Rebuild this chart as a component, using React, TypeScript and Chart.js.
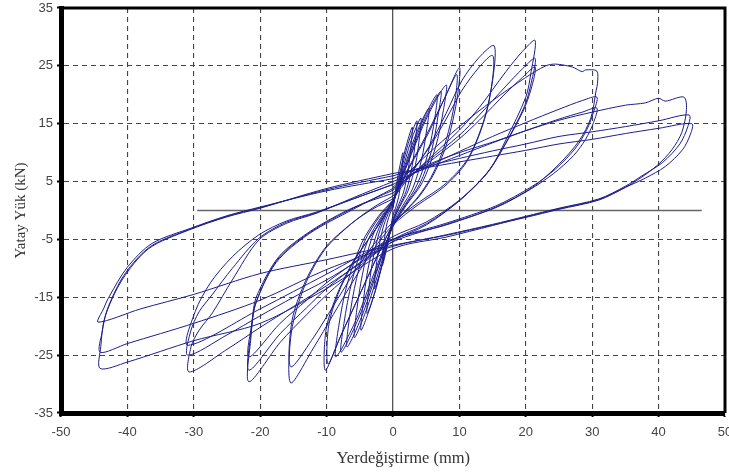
import { useEffect, useRef } from "react";
import { Chart, registerables } from "chart.js";

Chart.register(...registerables);

type P = [number, number];

// Axis ticks
const xTicks = [-50, -40, -30, -20, -10, 0, 10, 20, 30, 40, 50];
const yTicks = [-35, -25, -15, -5, 5, 15, 25, 35];
// Horizontal zero reference line (x extent)
const zeroLineX = [-29.5, 46.5];

// Small cycles (displacement mm, load kN)
const s1: P[] = [[0,0.5],[0.45,4],[1.0,7.5],[1.5,10],[1.42,8],[1.2,5],[0.82,2.2],[0.38,0.4],[0,-0.8],[-0.48,-3.8],[-1.05,-7.1],[-1.6,-9.5],[-1.52,-7.6],[-1.28,-4.8],[-0.88,-2.1],[-0.4,-0.4],[0,0.5]];
const s2: P[] = [[0,0.5],[0.9,5.8],[1.9,10.8],[2.9,14.4],[2.75,11.5],[2.3,7.2],[1.6,3.2],[0.7,0.6],[0,-1.5],[-0.8,-5.4],[-1.8,-10.1],[-2.8,-13.5],[-2.65,-10.8],[-2.2,-6.8],[-1.5,-3],[-0.7,-0.5],[0,0.8]];
const s3: P[] = [[0,0.8],[1.1,6.2],[2.3,11.6],[3.6,15.5],[3.4,12.4],[2.9,7.8],[2,3.4],[0.9,0.6],[0,-1.8],[-1.2,-7.1],[-2.5,-13.3],[-3.9,-17.8],[-3.7,-14.2],[-3.1,-8.9],[-2.1,-3.9],[-1,-0.7],[0,1]];
const s4: P[] = [[0,1],[1.3,6.4],[2.7,12],[4.2,16],[4,12.8],[3.4,8],[2.3,3.5],[1,0.6],[0,-2],[-1.4,-8.3],[-3.1,-15.5],[-4.8,-20.7],[-4.55,-16.5],[-3.8,-10.3],[-2.6,-4.5],[-1.2,-0.8],[0,1.2]];
const s5: P[] = [[0,1.2],[1.6,7.1],[3.5,13.3],[5.4,17.7],[5.1,14.2],[4.3,8.8],[3,3.9],[1.4,0.7],[0,-2.2],[-1.7,-8.8],[-3.8,-16.5],[-5.8,-22],[-5.5,-17.6],[-4.6,-11],[-3.2,-4.8],[-1.5,-0.9],[0,1.4]];
const s6: P[] = [[0,1.4],[2,8],[4.3,15],[6.6,20],[6.3,16],[5.3,10],[3.6,4.4],[1.7,0.8],[0,-2.5],[-2.1,-9.4],[-4.5,-17.7],[-6.9,-23.6],[-6.6,-18.9],[-5.5,-11.8],[-3.8,-5.2],[-1.7,-1],[0,1.6]];
const s7: P[] = [[0,1.6],[2.4,8.7],[5.2,16.3],[8,21.7],[7.6,17.4],[6.4,10.9],[4.4,4.8],[2,0.9],[0,-2.8],[-2.6,-10.1],[-5.6,-19],[-8.6,-25.3],[-8.2,-20.2],[-6.9,-12.7],[-4.7,-5.6],[-2.2,-1],[0,1.8]];
const s8: P[] = [[0,1.5],[2.2,8.2],[4.7,15.5],[7.2,20.6],[6.8,16.5],[5.8,10.3],[4,4.5],[1.8,0.8],[0,-2.6],[-2.3,-9.8],[-5.1,-18.4],[-7.8,-24.5],[-7.4,-19.6],[-6.2,-12.3],[-4.3,-5.4],[-2,-1],[0,1.7]];

// ±10 mm cycles
const c10a: P[] = [[0,1.5],[2.5,7.5],[5.4,13.5],[8,20],[10,24.7],[9.8,20.5],[9,15.5],[7.8,10.5],[6,6],[4,2.5],[2,0],[0,-2.5],[-2,-7],[-4,-12],[-6,-17],[-8,-22],[-10.2,-27.6],[-10.1,-20.7],[-8.6,-15],[-6.2,-9.2],[-4,-5.5],[-2.1,-2.4],[0,1.5]];
const c10b: P[] = [[0,1.8],[2.4,7.5],[5,13],[7.6,19],[9.6,23.5],[9.4,19.5],[8.6,14.8],[7.4,10],[5.7,5.7],[3.8,2.4],[1.9,0],[0,-2.5],[-1.9,-6.8],[-3.9,-11.7],[-5.8,-16.5],[-7.8,-21.5],[-9.8,-26.5],[-9.7,-20],[-8.3,-14.5],[-6,-9],[-3.9,-5.3],[-2,-2.2],[0,1.8]];

// ±15 mm cycles
const c15a: P[] = [[0,2],[2.5,6],[5.4,11],[8,16.8],[10.4,22.5],[13,26.5],[15.2,28.5],[15.2,24.2],[14,16.8],[11.4,9.2],[8,4.7],[4,1.5],[0,-2],[-3,-6],[-6,-11],[-9,-16.5],[-12,-22],[-15.4,-27],[-15.2,-19],[-13.1,-12],[-10.1,-6.3],[-6.2,-2.2],[-3,0.3],[0,2]];
const c15b: P[] = [[0,2.5],[2.5,6.3],[5.4,10.8],[8,15.8],[10.4,20.8],[13,24.8],[15,26.8],[15,22.8],[13.8,15.8],[11.2,8.6],[7.8,4.2],[3.8,1],[0,-2.5],[-3,-6.8],[-6,-12.2],[-9,-18],[-12,-23.8],[-15.4,-29.8],[-15.3,-21],[-13.3,-13],[-10.3,-6.8],[-6.4,-2.4],[-3,0.5],[0,2.5]];

// ±21 mm cycles
const c21a: P[] = [[0,3],[5,8.5],[10,13.9],[13,17.8],[17,24],[19.5,27.5],[21.4,29.4],[20.8,24],[20,19.6],[17,12.2],[14.5,7],[10,1.8],[5,-2],[0,-4.5],[-5,-8.3],[-10,-12.5],[-13,-15.5],[-17,-19.5],[-21.7,-25.3],[-21.2,-19],[-20.6,-15],[-17.2,-8],[-12.2,-3.4],[-6,0.5],[0,3]];
const c21b: P[] = [[0,3.5],[5,8.3],[10,13],[13,16.5],[17,21.5],[19.5,24.5],[21.4,26.3],[20.8,22],[19.8,18],[16.8,11.3],[14.2,6.5],[9.8,1.5],[5,-2.3],[0,-5],[-5,-9],[-10,-13.5],[-13,-16.8],[-17,-21.3],[-21.7,-27.6],[-21.3,-20.5],[-20.6,-15.8],[-17.4,-8.5],[-12.4,-3.7],[-6,0.4],[0,3.5]];
const c21c: P[] = [[0,3.8],[5,8],[10,12.4],[13,15.6],[17,20.3],[19.5,23],[21.4,24.8],[20.8,21],[19.6,17.2],[16.6,10.8],[14,6.2],[9.6,1.3],[5,-2.5],[0,-5.3],[-5,-9.6],[-10,-14.6],[-13,-18],[-17,-22.8],[-21.7,-29.6],[-21.4,-22],[-20.8,-16.5],[-17.6,-9],[-12.6,-4],[-6,0.2],[0,3.8]];

// ±30 mm cycles
const c30a: P[] = [[0,4],[5,9.5],[10,14.5],[15,19],[20,23],[23,25],[24.5,25.3],[27,24.8],[28.5,24],[29,24.3],[30.7,24.1],[30.8,22],[30.6,20.8],[29.8,16],[28,12],[25,8],[21,4],[15.5,0.6],[8,-2.5],[0,-5],[-10,-11],[-20,-17],[-30.9,-23.3],[-29.8,-17.5],[-27.5,-12.5],[-24.2,-8],[-20.2,-4.2],[-16,-1.8],[-11.6,-0.3],[-6,2],[0,4.5]];
const c30b: P[] = [[0,4.5],[5,7.5],[10,10.2],[15,12.8],[20,15.2],[25,17.5],[28.5,19],[30.7,19.6],[30.2,17],[29.2,14],[27.5,10.8],[24.5,7.2],[21,4.2],[15.5,0.8],[8,-2.2],[0,-5],[-5,-8.5],[-10,-12],[-15,-15],[-20,-18.2],[-25,-21.5],[-30.9,-25],[-30.5,-21],[-29.2,-17.5],[-27.2,-14.5],[-24.2,-10],[-20.2,-4.8],[-16,-2],[-11.6,-0.4],[-6,2],[0,4.5]];
const c30c: P[] = [[0,5],[5,7.3],[10,9.5],[15,11.7],[20,13.8],[25,15.8],[28.5,17],[30.7,17.7],[30.2,15.2],[29,12.3],[27.2,9.5],[24.2,6.4],[20.6,3.6],[15.5,0.5],[8,-2.4],[0,-5.4],[-5,-9.2],[-10,-13],[-15,-16.6],[-20,-20.2],[-25,-24],[-30.7,-27.9],[-30.4,-23.5],[-29.2,-20.7],[-27.2,-17.7],[-24.2,-12],[-20.2,-5.1],[-16,-2.2],[-11.6,-0.5],[-6,2.2],[0,5]];

// ±45 mm cycles
const c45a: P[] = [[0,5.5],[5.4,8],[10,10],[15.5,12],[20,13.8],[25,15.6],[30,17],[35,18.2],[38,18.6],[40,19.4],[41,18.9],[43.8,19.6],[44.2,17.5],[43.5,13.5],[42,10.5],[40,8],[37.5,5.8],[35,4],[31,1.8],[25,0.2],[20,-1.2],[15,-2.5],[8,-4.3],[0,-6],[-10,-8.5],[-20,-10.9],[-30,-14.5],[-38,-17],[-44.4,-19.3],[-43.6,-17],[-42.8,-15],[-40,-9.8],[-36.3,-5.7],[-30.3,-3],[-25,-0.9],[-20,0.6],[-10,3.4],[0,5.5]];
const c45b: P[] = [[0,6],[5,7.6],[10,9],[15,10.3],[20,11.5],[25,12.8],[30,13.6],[35,14.5],[40,15.5],[44.6,16.5],[44.4,14.5],[43.2,11.5],[40.6,8.3],[37.5,6],[35,4.2],[31,2],[25,0.4],[20,-1],[15,-2.4],[8,-4.2],[0,-6.2],[-10,-10.2],[-20,-15.5],[-30,-19.5],[-40,-23],[-44.1,-24.5],[-43.8,-21],[-43,-17],[-40.4,-11],[-36.5,-6.2],[-30.5,-3.2],[-25,-1],[-20,0.5],[-10,3.6],[0,6]];
const c45c: P[] = [[0,6.4],[5,7.4],[10,8.4],[15,9.4],[20,10.4],[25,11.5],[30,12.3],[35,13.3],[40,14.2],[45,15],[44.8,13.2],[43.6,10.5],[41,7.6],[38,5.6],[35,4],[31,1.9],[25,0.3],[20,-1.1],[15,-2.6],[8,-4.6],[0,-6.6],[-10,-13.5],[-20,-19.5],[-30,-22.5],[-40,-26.2],[-44.1,-27.3],[-44,-23.5],[-43.4,-18.5],[-40.8,-12],[-36.8,-6.6],[-30.8,-3.4],[-25,-1.1],[-20,0.4],[-10,3.8],[0,6.4]];

const cycles: P[][] = [s1, s2, s3, s4, s5, s6, s7, s8, c10a, c10b, c15a, c15b, c21a, c21b, c21c, c30a, c30b, c30c, c45a, c45b, c45c];

const LINE = "#1e1e8c";

const framePlugin = {
  id: "frame",
  afterDraw(chart: any) {
    const { ctx, chartArea } = chart;
    ctx.save();
    ctx.strokeStyle = "#000";
    ctx.lineWidth = 3;
    ctx.beginPath();
    ctx.moveTo(chartArea.left, chartArea.top);
    ctx.lineTo(chartArea.right, chartArea.top);
    ctx.lineTo(chartArea.right, chartArea.bottom);
    ctx.stroke();
    ctx.restore();
  },
};

export default function App() {
  const ref = useRef<HTMLCanvasElement | null>(null);

  useEffect(() => {
    if (!ref.current) return;
    const datasets: any[] = cycles.map((c) => ({
      data: c.map(([x, y]) => ({ x, y })),
      showLine: true,
      borderColor: LINE,
      borderWidth: 1,
      pointRadius: 0,
      tension: 0.3,
      fill: false,
    }));
    datasets.push({
      data: zeroLineX.map((x) => ({ x, y: 0 })),
      showLine: true,
      borderColor: "#666",
      borderWidth: 1.3,
      pointRadius: 0,
      tension: 0,
    });

    const tickFont = { family: "'Liberation Sans', Arial, sans-serif", size: 13 };
    const titleFont = { family: "'Liberation Serif', 'Times New Roman', serif", size: 16.5 };

    const chart = new Chart(ref.current, {
      type: "scatter",
      data: { datasets },
      plugins: [framePlugin],
      options: {
        animation: false,
        responsive: true,
        maintainAspectRatio: false,
        layout: { padding: { left: 0, right: 4, top: 8, bottom: 0 } },
        plugins: { legend: { display: false }, tooltip: { enabled: false } },
        scales: {
          x: {
            type: "linear",
            min: xTicks[0],
            max: xTicks[xTicks.length - 1],
            afterBuildTicks: (s: any) => {
              s.ticks = xTicks.map((v) => ({ value: v }));
            },
            afterFit: (s: any) => {
              s.height = 60;
              s.paddingLeft = 0;
              s.paddingRight = 0;
            },
            ticks: {
              color: "#444",
              font: tickFont,
              padding: 8,
              maxRotation: 0,
              autoSkip: false,
            },
            grid: {
              color: (c: any) => (c.tick && c.tick.value === 0 ? "#555" : "#444"),
              lineWidth: (c: any) => (c.tick && c.tick.value === 0 ? 1.3 : 1.1),
              tickLength: 4,
              tickColor: "#000",
              tickWidth: 2,
            },
            border: {
              display: true,
              color: "#000",
              width: 5,
              dash: (c: any) => (c.tick && c.tick.value !== 0 ? [5, 4] : []),
            } as any,
            title: {
              display: true,
              text: "     Yerdeğiştirme (mm)",
              color: "#333",
              font: titleFont,
              padding: { top: 0, bottom: 4 },
            },
          },
          y: {
            type: "linear",
            min: yTicks[0],
            max: yTicks[yTicks.length - 1],
            afterBuildTicks: (s: any) => {
              s.ticks = yTicks.map((v) => ({ value: v }));
            },
            afterFit: (s: any) => {
              s.width = 61;
              s.paddingTop = 0;
              s.paddingBottom = 0;
            },
            ticks: {
              color: "#444",
              font: tickFont,
              padding: 4,
              autoSkip: false,
            },
            grid: {
              color: "#444",
              lineWidth: 1.1,
              tickLength: 4,
              tickColor: "#000",
              tickWidth: 2,
            },
            border: {
              display: true,
              color: "#000",
              width: 5,
              dash: [5, 4],
            },
            title: {
              display: true,
              text: "Yatay Yük (kN)",
              color: "#333",
              font: { family: "'Liberation Serif', 'Times New Roman', serif", size: 15 },
              padding: { top: 12, bottom: 0 },
            },
          },
        },
      } as any,
    });
    return () => chart.destroy();
  }, []);

  return (
    <div style={{ position: "fixed", left: 0, top: 0, width: 729, height: 473, background: "#fff" }}>
      <canvas ref={ref} />
    </div>
  );
}
